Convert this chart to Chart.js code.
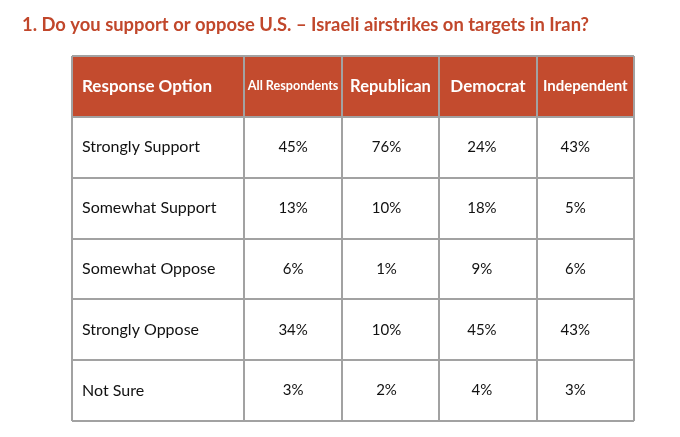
<!DOCTYPE html>
<html>
<head>
<meta charset="utf-8">
<script src="https://cdn.jsdelivr.net/npm/chart.js@4.4.1/dist/chart.umd.min.js"></script>
<style>
  html, body { margin: 0; padding: 0; background: #fff; }
  canvas { display: block; }
</style>
</head>
<body>
<canvas id="tbl" width="680" height="437"></canvas>
<script>
// table content
const title = '1. Do you support or oppose U.S. \u2013 Israeli airstrikes on targets in Iran?';
const columns = ['Response Option', 'All Respondents', 'Republican', 'Democrat', 'Independent'];
const responses = ['Strongly Support', 'Somewhat Support', 'Somewhat Oppose', 'Strongly Oppose', 'Not Sure'];
const allRespondents = [45, 13, 6, 34, 3];
const republican = [76, 10, 1, 10, 2];
const democrat = [24, 18, 9, 45, 4];
const independent = [43, 5, 6, 43, 3];

const values = [allRespondents, republican, democrat, independent];

// layout / style
const colSpan = [1.77, 1, 1, 1, 1];   // relative column widths
const headerFont = [17, 12.6, 16.5, 17, 15];
const valueShift = [0, 0, -4, -6, -10];
const RED = '#c34b2e';
const GRID = '#a2a2a2';
const FONT = 'Lato, "Open Sans", sans-serif';

const rowLabels = ['header'].concat(responses);
const edges = [0];
colSpan.forEach(w => edges.push(edges[edges.length - 1] + w));

const datasets = columns.map((c, i) => ({
  label: c,
  data: rowLabels.map(() => colSpan[i]),
  backgroundColor: rowLabels.map((r, j) => j === 0 ? RED : '#ffffff'),
  borderWidth: 0,
  barPercentage: 1,
  categoryPercentage: 1
}));

const cellText = {
  id: 'cellText',
  afterDraw(chart) {
    const ctx = chart.ctx;
    ctx.save();
    // title
    ctx.fillStyle = '#c1472b';
    ctx.font = 'bold 19px ' + FONT;
    ctx.textAlign = 'left';
    ctx.textBaseline = 'alphabetic';
    ctx.fillText(title, 22, 31, 567);

    ctx.textBaseline = 'middle';
    columns.forEach((c, i) => {
      const meta = chart.getDatasetMeta(i);
      meta.data.forEach((bar, j) => {
        const left = Math.min(bar.x, bar.base);
        const right = Math.max(bar.x, bar.base);
        const cy = bar.y;
        let txt, x;
        if (j === 0) {
          ctx.fillStyle = '#ffffff';
          ctx.font = 'bold ' + headerFont[i] + 'px ' + FONT;
          txt = c;
        } else {
          ctx.fillStyle = '#111111';
          if (i === 0) {
            ctx.font = '16px ' + FONT;
            txt = responses[j - 1];
          } else {
            ctx.font = '15px ' + FONT;
            txt = values[i - 1][j - 1] + '%';
          }
        }
        if (i === 0) {
          ctx.textAlign = 'left';
          x = left + 9;
        } else {
          ctx.textAlign = 'center';
          x = (left + right) / 2 + (j === 0 ? 0 : valueShift[i]);
        }
        ctx.fillText(txt, x, cy);
      });
    });
    ctx.restore();
  }
};

new Chart(document.getElementById('tbl'), {
  type: 'bar',
  data: { labels: rowLabels, datasets: datasets },
  options: {
    responsive: false,
    animation: false,
    indexAxis: 'y',
    layout: { padding: { left: 72, right: 46, top: 56, bottom: 16 } },
    plugins: { legend: { display: false }, tooltip: { enabled: false }, title: { display: false } },
    scales: {
      x: {
        type: 'linear',
        stacked: true,
        min: 0,
        max: edges[edges.length - 1],
        afterBuildTicks: scale => { scale.ticks = edges.map(v => ({ value: v })); },
        ticks: { display: false },
        grid: { color: GRID, lineWidth: 2, drawTicks: false, z: 1 },
        border: { display: false }
      },
      y: {
        stacked: true,
        ticks: { display: false },
        grid: { color: GRID, lineWidth: 2, drawTicks: false, offset: true, z: 1 },
        border: { display: false }
      }
    }
  },
  plugins: [cellText]
});
</script>
</body>
</html>
